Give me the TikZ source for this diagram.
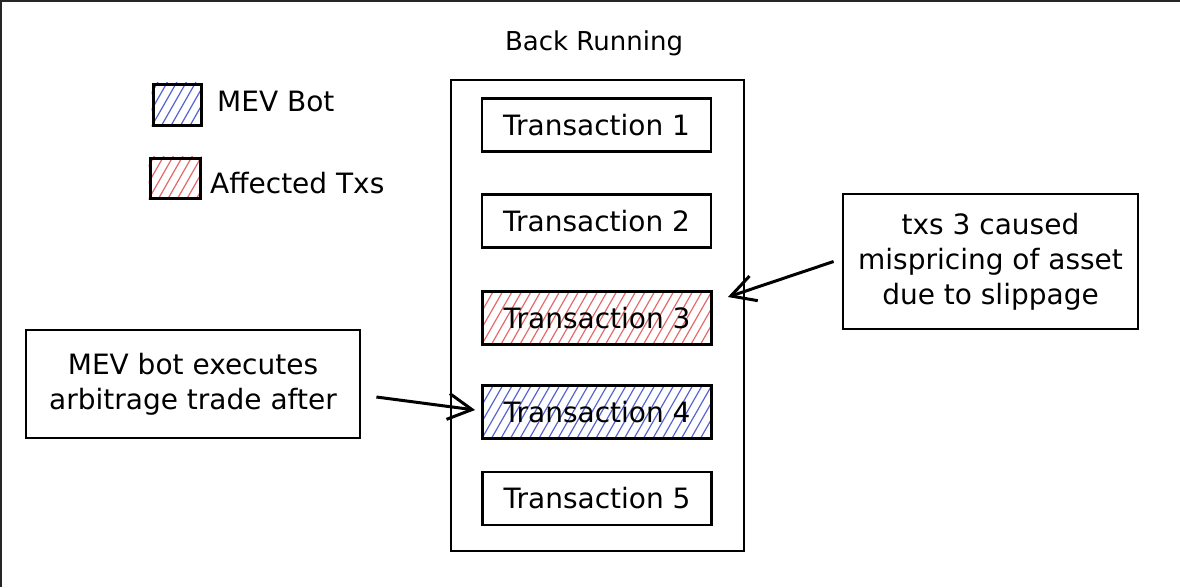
\documentclass[tikz,border=0pt]{standalone}
\usepackage{fontspec}
\setmainfont{DejaVu Sans}
\usetikzlibrary{arrows.meta,backgrounds}
\definecolor{hblue}{RGB}{85,100,210}
\definecolor{hred}{RGB}{230,105,105}
\newcommand\hatchbox[2]{%
  \begin{scope}
    \clip (#1.south west) rectangle (#1.north east);
    \foreach \k in {-8,...,28} \draw[#2, line width=1.2pt] ([xshift=\k*9.5pt]#1.south west) -- ++(32,-56);
  \end{scope}}
\begin{document}
\begin{tikzpicture}[x=1pt,y=-1pt,
  every node/.style={font=\fontsize{28}{35}\selectfont, inner sep=0pt},
  txbox/.style={draw, line width=2.8pt, minimum width=229pt, minimum height=53pt},
  legbox/.style={draw, line width=3pt},
  notebox/.style={draw, line width=2.8pt, align=center},
  arr/.style={line width=3pt, -{Straight Barb[length=24pt,width=26pt,line width=3pt]}}]
\useasboundingbox (0,0) rectangle (1180,587);
\draw[line width=3pt, black!85] (0,587) -- (0,0) -- (1180,0);

% legend
\node[legbox, minimum width=48pt, minimum height=41pt] (legblue) at (177,104.5) {};
\node[legbox, minimum width=50pt, minimum height=40pt] (legred) at (175,178) {};
\node[anchor=base west] (legbluetxt) at (217,111) {MEV Bot};
\node[anchor=base west] (legredtxt) at (210,193) {Affected Txs};

% title and container
\node[anchor=base, font=\fontsize{26}{30}\selectfont] (title) at (594,50) {Back Running};
\node[draw, line width=2.8pt, minimum width=293pt, minimum height=471pt] (block) at (597.5,315.5) {};

\node[txbox] (tx1) at (596.5,125) {Transaction 1};
\node[txbox] (tx2) at (596.5,221) {Transaction 2};
\node[txbox] (tx3) at (597,318) {Transaction 3};
\node[txbox] (tx4) at (597,412) {Transaction 4};
\node[txbox] (tx5) at (597,498.5) {Transaction 5};

% notes
\node[notebox, minimum width=334pt, minimum height=108pt] (note1) at (193,384) {MEV bot executes\\arbitrage trade after};
\node[notebox, minimum width=295pt, minimum height=135pt] (note2) at (990.5,261.5) {txs 3 caused\\mispricing of asset\\due to slippage};

% arrows
\draw[arr] ([xshift=15pt,yshift=-13pt]note1.east) -- ([xshift=-6pt,yshift=2pt]tx4.west);
\coordinate (tip3) at ([xshift=15pt,yshift=21pt]tx3.east);
\draw[arr] ([xshift=-8pt]note2.west) -- (tip3);

% hatching
\begin{pgfonlayer}{background}
  \fill[white] (0,0) rectangle (1180,587);
  \hatchbox{legblue}{hblue}
  \hatchbox{legred}{hred}
  \hatchbox{tx3}{hred}
  \hatchbox{tx4}{hblue}
\end{pgfonlayer}
\end{tikzpicture}
\end{document}
